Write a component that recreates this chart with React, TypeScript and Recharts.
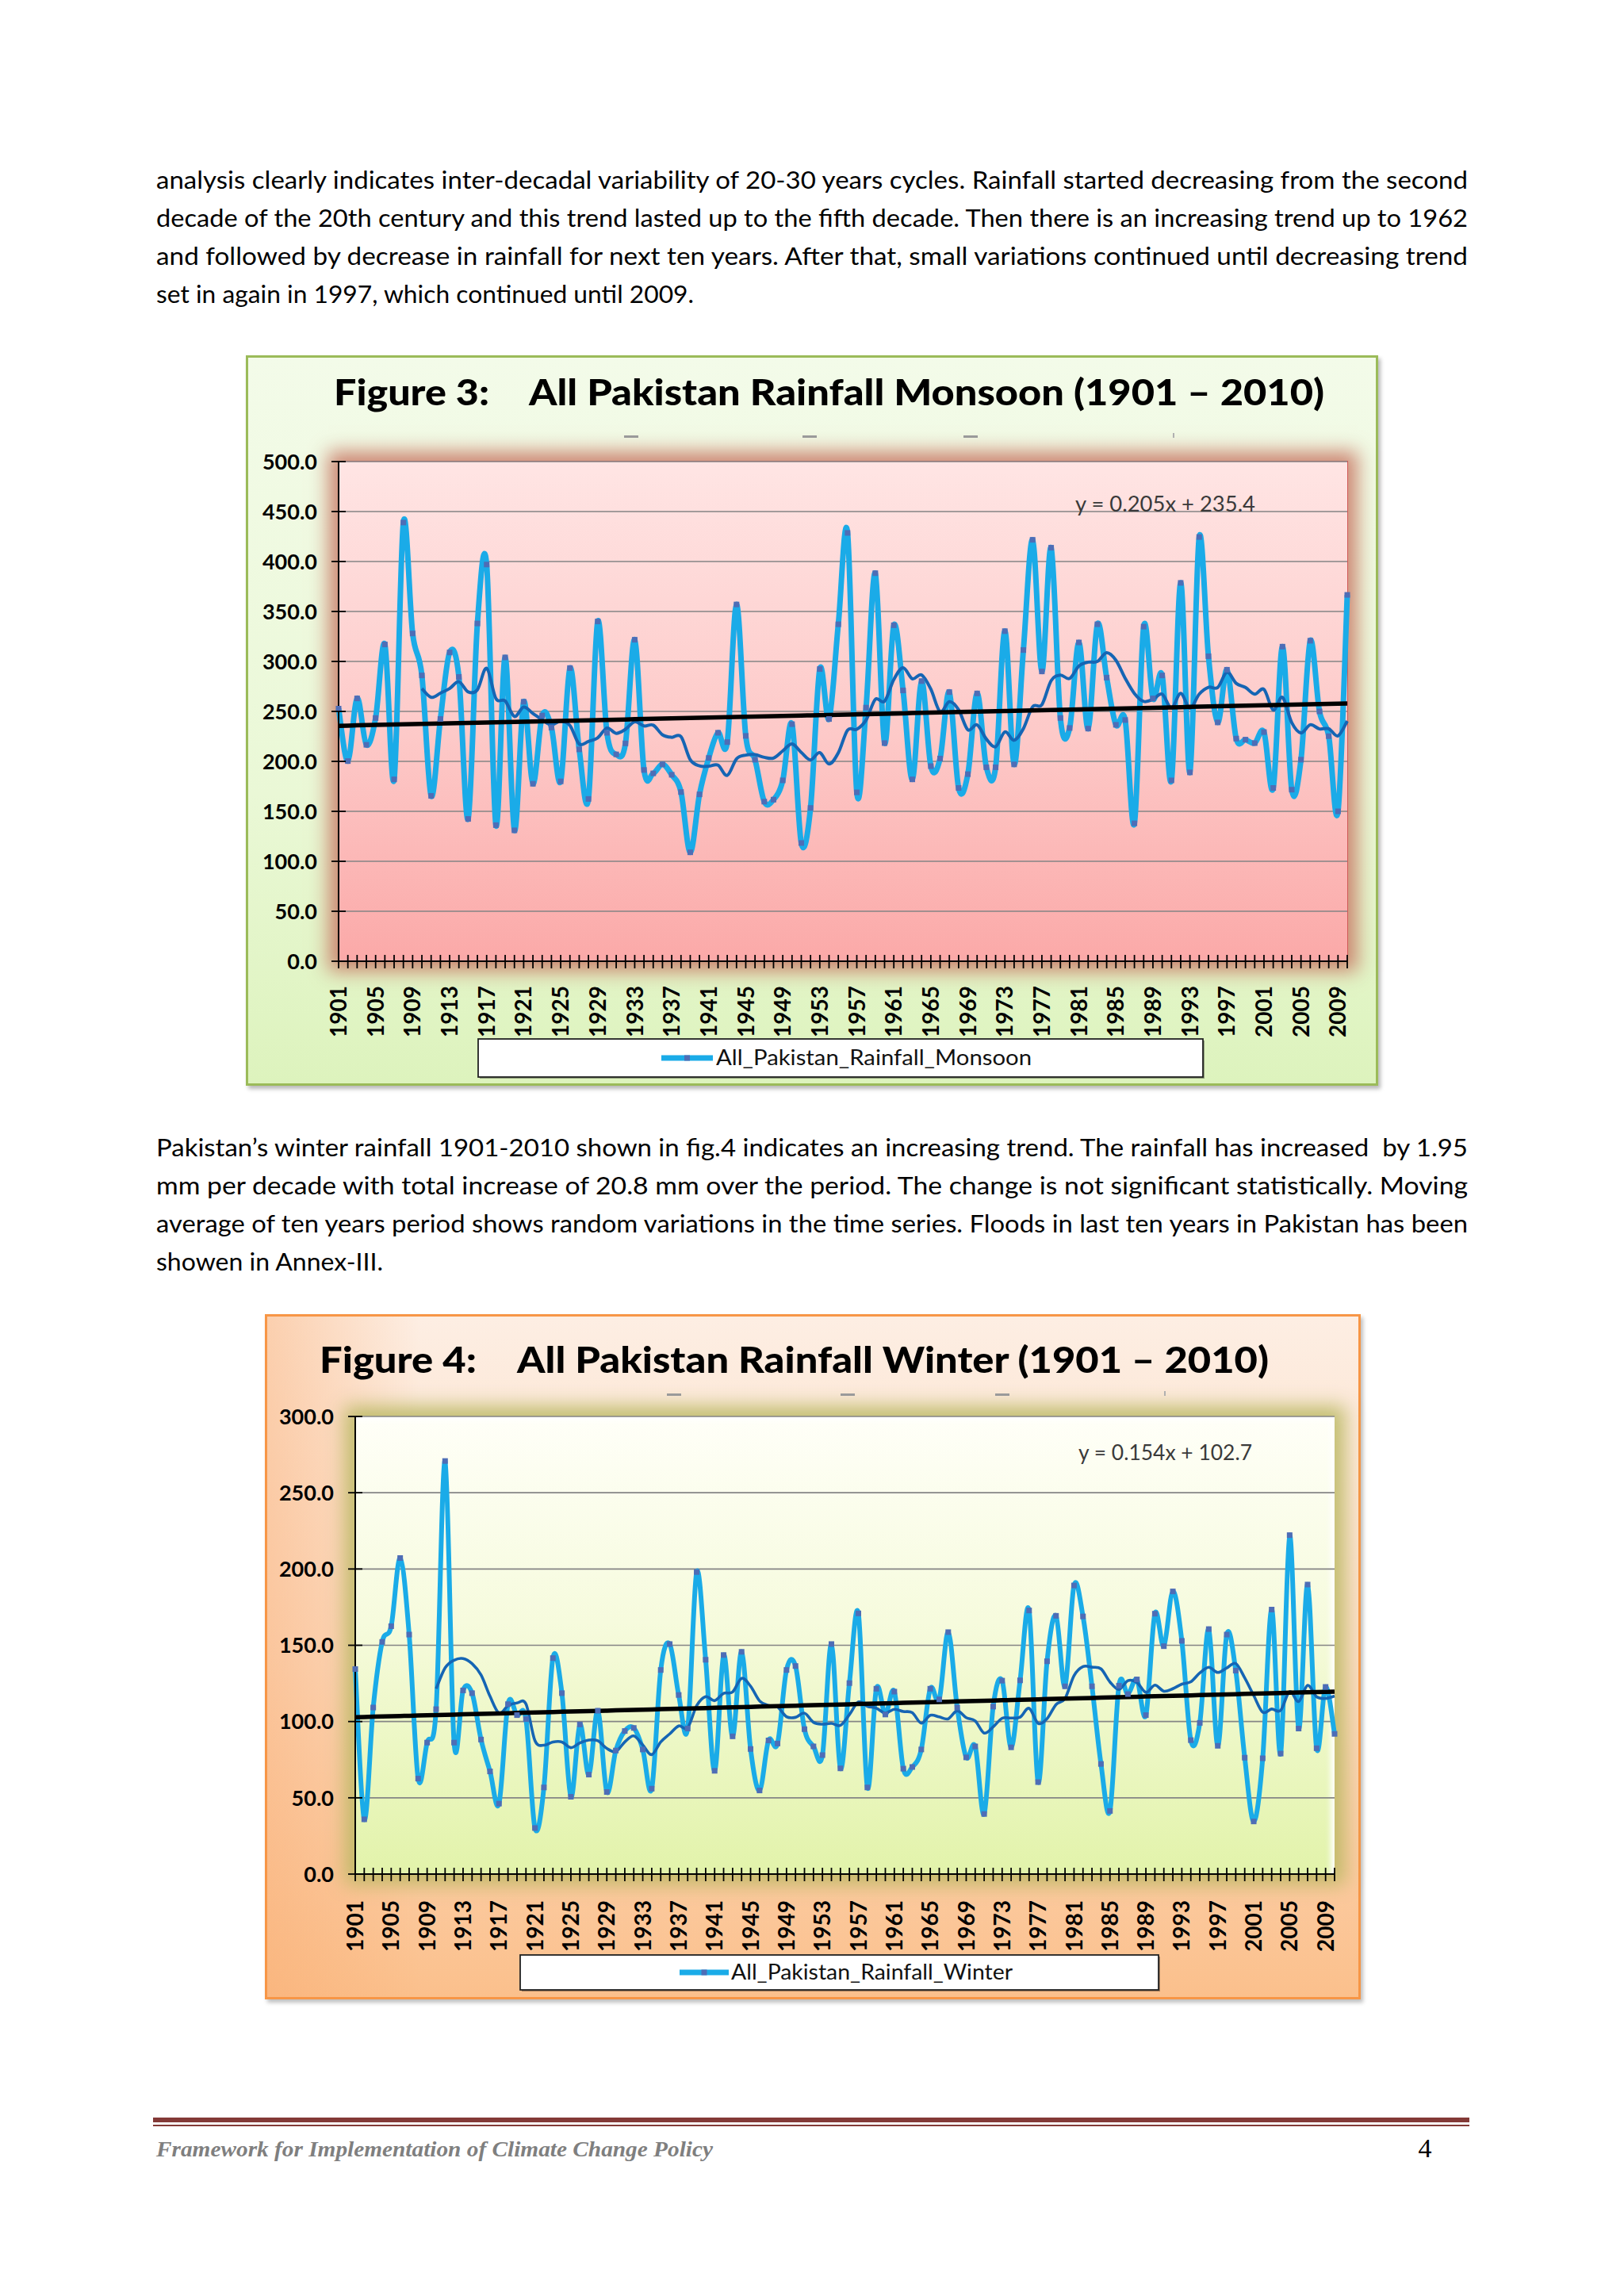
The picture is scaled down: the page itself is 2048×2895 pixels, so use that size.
import React from 'react';
import { LineChart, Line, XAxis, YAxis, CartesianGrid } from 'recharts';

// ---------------- DATA ----------------
const START_YEAR = 1901;
const YEARS: string[] = Array.from({ length: 110 }, (_, i) => String(START_YEAR + i));

const YEAR_TICK_LABELS = [
  '1901', '1905', '1909', '1913', '1917', '1921', '1925', '1929', '1933', '1937',
  '1941', '1945', '1949', '1953', '1957', '1961', '1965', '1969', '1973', '1977',
  '1981', '1985', '1989', '1993', '1997', '2001', '2005', '2009',
];

// All Pakistan Rainfall Monsoon (mm), 1901–2010
const MONSOON_VALUES = [
  252.8, 200.3, 263.0, 216.6, 243.4, 317.0, 182.0, 439.0, 328.0, 286.0, // 1901-1910
  165.5, 242.4, 309.0, 284.5, 142.4, 338.0, 397.0, 136.2, 304.0, 131.0, // 1911-1920
  259.6, 177.6, 245.9, 233.8, 180.0, 293.4, 212.0, 162.4, 340.0, 228.6, // 1921-1930
  207.0, 218.0, 321.7, 191.4, 188.0, 197.0, 186.6, 169.3, 109.0, 167.0, // 1931-1940
  203.4, 228.6, 219.3, 357.0, 225.5, 201.7, 159.7, 161.7, 181.0, 237.2, // 1941-1950
  118.3, 153.4, 292.4, 242.4, 337.2, 428.6, 169.0, 253.8, 388.3, 218.3, // 1951-1960
  336.2, 271.0, 182.0, 280.3, 195.2, 202.8, 269.3, 173.4, 187.2, 268.0, // 1961-1970
  194.1, 194.1, 330.3, 197.0, 311.4, 421.7, 290.0, 413.8, 243.4, 233.4, // 1971-1980
  319.0, 232.8, 337.2, 283.8, 236.6, 241.4, 138.0, 334.8, 263.0, 286.0, // 1981-1990
  181.0, 378.6, 189.0, 424.5, 305.2, 239.0, 291.7, 222.8, 221.7, 218.3, // 1991-2000
  229.3, 173.4, 314.8, 171.7, 201.7, 320.7, 250.0, 225.2, 150.0, 366.6, // 2001-2010
];

// All Pakistan Rainfall Winter (mm), 1901–2010
const WINTER_VALUES = [
  134.4, 35.9, 109.2, 152.2, 162.5, 207.2, 157.0, 62.6, 86.2, 108.1, // 1901-1910
  270.8, 86.2, 120.4, 118.6, 88.2, 67.3, 46.2, 111.4, 104.2, 101.6, // 1911-1920
  30.2, 56.8, 141.6, 118.6, 50.7, 98.1, 65.2, 107.1, 53.8, 81.0, // 1921-1930
  93.8, 95.8, 81.7, 56.0, 133.8, 150.8, 117.4, 95.4, 198.0, 140.5, // 1931-1940
  67.7, 143.6, 90.3, 145.7, 82.0, 54.8, 87.6, 85.6, 133.8, 136.4, // 1941-1950
  95.0, 83.7, 78.0, 150.8, 69.3, 125.2, 170.9, 56.8, 121.5, 104.6, // 1951-1960
  119.6, 69.1, 70.2, 81.7, 121.5, 114.5, 158.6, 109.2, 76.5, 83.7, // 1961-1970
  39.4, 109.8, 126.8, 83.1, 127.0, 172.8, 60.3, 139.5, 169.3, 123.1, // 1971-1980
  189.2, 168.9, 123.1, 72.2, 41.4, 123.5, 118.0, 127.6, 104.2, 170.7, // 1981-1990
  149.4, 185.3, 152.9, 87.8, 99.1, 160.6, 84.1, 157.0, 133.4, 76.3, // 1991-2000
  34.5, 75.9, 173.4, 79.0, 222.2, 95.4, 189.8, 82.5, 122.7, 91.9, // 2001-2010
];

const MONSOON_TICKS = [0, 50, 100, 150, 200, 250, 300, 350, 400, 450, 500];
const WINTER_TICKS = [0, 50, 100, 150, 200, 250, 300];

const MONSOON_TREND = { slope: 0.205, intercept: 235.4, label: 'y = 0.205x + 235.4' };
const WINTER_TREND = { slope: 0.154, intercept: 102.7, label: 'y = 0.154x + 102.7' };
const MA_PERIOD = 10;

const PARA1 = [
  'analysis clearly indicates inter-decadal variability of 20-30 years cycles. Rainfall started decreasing from the second',
  'decade of the 20th century and this trend lasted up to the fifth decade. Then there is an increasing trend up to 1962',
  'and followed by decrease in rainfall for next ten years. After that, small variations continued until decreasing trend',
  'set in again in 1997, which continued until 2009.',
];
const PARA2 = [
  'Pakistan\u2019s winter rainfall 1901-2010 shown in fig.4 indicates an increasing trend. The rainfall has increased  by 1.95',
  'mm per decade with total increase of 20.8 mm over the period. The change is not significant statistically. Moving',
  'average of ten years period shows random variations in the time series. Floods in last ten years in Pakistan has been',
  'showen in Annex-III.',
];

// ---------------- HELPERS ----------------
type Trend = { slope: number; intercept: number; label: string };

function buildRows(values: number[], trend: Trend) {
  return YEARS.map((year, i) => {
    let ma: number | null = null;
    if (i >= MA_PERIOD - 1) {
      const win = values.slice(i - MA_PERIOD + 1, i + 1);
      ma = win.reduce((a, b) => a + b, 0) / MA_PERIOD;
    }
    return { year, value: values[i], ma, trend: trend.slope * (i + 1) + trend.intercept };
  });
}

// Excel-like smoothed line (Catmull-Rom through points)
const excelSmooth: any = (context: any) => {
  let pts: number[][] = [];
  return {
    areaStart() {},
    areaEnd() {},
    lineStart() {
      pts = [];
    },
    lineEnd() {
      const n = pts.length;
      if (!n) return;
      context.moveTo(pts[0][0], pts[0][1]);
      if (n === 1) {
        context.lineTo(pts[0][0], pts[0][1]);
        return;
      }
      for (let i = 0; i < n - 1; i++) {
        const p0 = pts[Math.max(0, i - 1)];
        const p1 = pts[i];
        const p2 = pts[i + 1];
        const p3 = pts[Math.min(n - 1, i + 2)];
        context.bezierCurveTo(
          p1[0] + (p2[0] - p0[0]) / 6,
          p1[1] + (p2[1] - p0[1]) / 6,
          p2[0] - (p3[0] - p1[0]) / 6,
          p2[1] - (p3[1] - p1[1]) / 6,
          p2[0],
          p2[1]
        );
      }
    },
    point(x: number, y: number) {
      pts.push([x, y]);
    },
  };
};

const AXIS_FONT = 'Lato, "Open Sans", sans-serif';
const TEXT_FONT = 'Lato, "Open Sans", sans-serif';

const makeXTick = (offset: number) => (props: any) => {
  const { x, y, payload } = props;
  const ay = y - offset;
  const show = YEAR_TICK_LABELS.includes(String(payload.value));
  return (
    <g>
      <line x1={x} x2={x} y1={ay - 8} y2={ay + 9} stroke="#000" strokeWidth={1.8} />
      {show ? (
        <text
          x={x}
          y={y}
          dy="0.36em"
          transform={`rotate(-90 ${x} ${y})`}
          textAnchor="end"
          fontFamily={AXIS_FONT}
          fontWeight={700}
          fontSize={28}
          fill="#000"
        >
          {payload.value}
        </text>
      ) : null}
    </g>
  );
};

const makeYTick = (offset: number) => (props: any) => {
  const { x, y, payload } = props;
  const ax = x + offset;
  return (
    <g>
      <line x1={ax - 9} x2={ax + 9} y1={y} y2={y} stroke="#000" strokeWidth={1.8} />
      <text
        x={x}
        y={y}
        dy="0.36em"
        textAnchor="end"
        fontFamily={AXIS_FONT}
        fontWeight={700}
        fontSize={27}
        fill="#000"
      >
        {Number(payload.value).toFixed(1)}
      </text>
    </g>
  );
};

const squareDot = (props: any) => {
  const { cx, cy, index } = props;
  if (cx == null || cy == null) return <g key={`d${index}`} />;
  return <rect key={`d${index}`} x={cx - 3.5} y={cy - 3.5} width={7} height={7} fill="#4E6DB6" />;
};

const YAXIS_W = 110;
const XAXIS_H = 110;

type FigCfg = {
  box: { left: number; top: number; width: number; height: number };
  plot: { left: number; top: number; right: number; bottom: number };
  xOffset: number;
  yOffset: number;
};

function RainChart({ cfg, rows, ticks, max, lineW, maW, trendW }: { cfg: FigCfg; rows: any[]; ticks: number[]; max: number; lineW: number; maW: number; trendW: number }) {
  const { box, plot } = cfg;
  const margin = {
    top: plot.top - box.top,
    left: plot.left - box.left - YAXIS_W,
    right: box.left + box.width - plot.right,
    bottom: box.top + box.height - plot.bottom - XAXIS_H,
  };
  return (
    <div style={{ position: 'absolute', left: box.left, top: box.top, width: box.width, height: box.height }}>
      <LineChart width={box.width} height={box.height} data={rows} margin={margin}>
        <CartesianGrid horizontal vertical={false} stroke="#858585" strokeWidth={1.6} />
        <XAxis
          dataKey="year"
          height={XAXIS_H}
          interval={0}
          tickLine={false}
          tickSize={0}
          tickMargin={cfg.xOffset}
          tick={makeXTick(cfg.xOffset)}
          axisLine={{ stroke: '#000', strokeWidth: 2 }}
        />
        <YAxis
          width={YAXIS_W}
          domain={[0, max]}
          ticks={ticks}
          interval={0}
          tickLine={false}
          tickSize={0}
          tickMargin={cfg.yOffset}
          tick={makeYTick(cfg.yOffset)}
          axisLine={{ stroke: '#000', strokeWidth: 2 }}
          allowDataOverflow
        />
        <Line
          dataKey="value"
          type={excelSmooth}
          stroke="#1AABE8"
          strokeWidth={lineW}
          dot={squareDot}
          activeDot={false}
          isAnimationActive={false}
        />
        <Line
          dataKey="ma"
          type={excelSmooth}
          stroke="#1565B4"
          strokeWidth={maW}
          dot={false}
          activeDot={false}
          isAnimationActive={false}
        />
        <Line
          dataKey="trend"
          type="linear"
          stroke="#000"
          strokeWidth={trendW}
          dot={false}
          activeDot={false}
          isAnimationActive={false}
        />
      </LineChart>
    </div>
  );
}

const FIG3: FigCfg = {
  box: { left: 310, top: 448, width: 1428, height: 921 },
  plot: { left: 427, top: 582, right: 1699, bottom: 1212 },
  xOffset: 31,
  yOffset: 27,
};
const FIG4: FigCfg = {
  box: { left: 334, top: 1657, width: 1382, height: 864 },
  plot: { left: 448, top: 1786, right: 1683, bottom: 2363 },
  xOffset: 33,
  yOffset: 27,
};

function Legend({ x, y, w, h, lineX1, lineX2, textX, textLen, label }: any) {
  const cy = y + h / 2;
  return (
    <g>
      <rect x={x + 2} y={y + 2} width={w} height={h} fill="rgba(0,0,0,0.35)" />
      <rect x={x} y={y} width={w} height={h} fill="#fff" stroke="#222" strokeWidth={1.8} />
      <line x1={lineX1} x2={lineX2} y1={cy} y2={cy} stroke="#1AABE8" strokeWidth={7} />
      <rect x={(lineX1 + lineX2) / 2 - 3.5} y={cy - 3.5} width={7} height={7} fill="#4E6DB6" />
      <text x={textX} y={cy + 9} fontFamily={TEXT_FONT} fontSize={27} fill="#111" textLength={textLen} lengthAdjust="spacingAndGlyphs">
        {label}
      </text>
    </g>
  );
}

export default function App() {
  const monsoonRows = buildRows(MONSOON_VALUES, MONSOON_TREND);
  const winterRows = buildRows(WINTER_VALUES, WINTER_TREND);

  const p3 = FIG3.plot;
  const p4 = FIG4.plot;

  return (
    <div
      style={{
        position: 'absolute',
        left: 0,
        top: 0,
        width: 2048,
        height: 2895,
        background: '#ffffff',
        overflow: 'hidden',
      }}
    >
      {/* Figure 3 frame */}
      <div
        style={{
          position: 'absolute',
          left: FIG3.box.left,
          top: FIG3.box.top,
          width: FIG3.box.width,
          height: FIG3.box.height,
          boxSizing: 'border-box',
          border: '3px solid #9BBB59',
          background: 'linear-gradient(#F3FBE9 0%, #EAF8D6 60%, #DDF3BD 100%)',
          boxShadow: '3px 4px 5px rgba(0,0,0,0.28)',
        }}
      />
      <div
        style={{
          position: 'absolute',
          left: p3.left,
          top: p3.top,
          width: p3.right - p3.left,
          height: p3.bottom - p3.top,
          background: 'linear-gradient(#FFE5E4 0%, #FDC9C8 55%, #FBA9A8 100%)',
          boxShadow: '0 0 22px 13px rgba(200,122,102,0.88)',
          outline: '1px solid #D05A58',
        }}
      />
      <RainChart cfg={FIG3} rows={monsoonRows} ticks={MONSOON_TICKS} max={500} lineW={7} maW={4} trendW={5.5} />

      {/* Figure 4 frame */}
      <div
        style={{
          position: 'absolute',
          left: FIG4.box.left,
          top: FIG4.box.top,
          width: FIG4.box.width,
          height: FIG4.box.height,
          boxSizing: 'border-box',
          border: '3px solid #F79646',
          background:
            'linear-gradient(to right, rgba(249,170,110,0.45) 0%, rgba(249,170,110,0) 14%), linear-gradient(#FDEEE3 0%, #FCDCC2 50%, #FBC08C 100%)',
          boxShadow: '3px 4px 5px rgba(0,0,0,0.25)',
        }}
      />
      <div
        style={{
          position: 'absolute',
          left: p4.left,
          top: p4.top,
          width: p4.right - p4.left,
          height: p4.bottom - p4.top,
          background: 'linear-gradient(#FFFFF8 0%, #F6FBDD 45%, #E2F3AA 100%)',
          boxShadow: '0 0 22px 13px rgba(186,184,98,0.88), inset -5px 5px 7px rgba(255,255,255,0.95)',
        }}
      />
      <RainChart cfg={FIG4} rows={winterRows} ticks={WINTER_TICKS} max={300} lineW={6} maW={3.6} trendW={5.5} />

      {/* Text overlay */}
      <svg width={2048} height={2895} style={{ position: 'absolute', left: 0, top: 0, pointerEvents: 'none' }}>
        {PARA1.map((t, i) => (
          <text
            key={`p1-${i}`}
            x={197}
            y={238 + i * 48}
            fontFamily={TEXT_FONT}
            fontSize={31}
            fill="#000"
            textLength={i === 3 ? 678 : 1654}
            lengthAdjust="spacingAndGlyphs"
            style={{ whiteSpace: 'pre' }}
          >
            {t}
          </text>
        ))}
        {PARA2.map((t, i) => (
          <text
            key={`p2-${i}`}
            x={197}
            y={1458 + i * 48}
            fontFamily={TEXT_FONT}
            fontSize={31}
            fill="#000"
            textLength={i === 3 ? 286 : 1654}
            lengthAdjust="spacingAndGlyphs"
            style={{ whiteSpace: 'pre' }}
          >
            {t}
          </text>
        ))}

        {/* Figure titles */}
        <text x={421} y={511} fontFamily={TEXT_FONT} fontWeight={900} fontSize={46} fill="#000" textLength={196} lengthAdjust="spacingAndGlyphs">
          Figure 3:
        </text>
        <text x={667} y={511} fontFamily={TEXT_FONT} fontWeight={900} fontSize={46} fill="#000" textLength={1003} lengthAdjust="spacingAndGlyphs">
          All Pakistan Rainfall Monsoon (1901 – 2010)
        </text>
        <text x={403} y={1731} fontFamily={TEXT_FONT} fontWeight={900} fontSize={46} fill="#000" textLength={198} lengthAdjust="spacingAndGlyphs">
          Figure 4:
        </text>
        <text x={652} y={1731} fontFamily={TEXT_FONT} fontWeight={900} fontSize={46} fill="#000" textLength={948} lengthAdjust="spacingAndGlyphs">
          All Pakistan Rainfall Winter (1901 – 2010)
        </text>

        {/* small grey artefact dashes under titles */}
        {[796, 1021, 1224].map((x) => (
          <rect key={`a3-${x}`} x={x - 9} y={549} width={18} height={3} fill="#9A9A9A" />
        ))}
        <rect x={1479} y={546} width={2} height={6} fill="#B0B0B0" />
        {[850, 1069, 1264].map((x) => (
          <rect key={`a4-${x}`} x={x - 9} y={1757} width={18} height={3} fill="#9A9A9A" />
        ))}
        <rect x={1468} y={1754} width={2} height={6} fill="#B0B0B0" />

        {/* Trend equations */}
        <text x={1356} y={645} fontFamily={TEXT_FONT} fontSize={26} fill="#3A3A3A" textLength={227} lengthAdjust="spacingAndGlyphs">
          {MONSOON_TREND.label}
        </text>
        <text x={1360} y={1841} fontFamily={TEXT_FONT} fontSize={26} fill="#3A3A3A" textLength={219} lengthAdjust="spacingAndGlyphs">
          {WINTER_TREND.label}
        </text>

        {/* Legends */}
        <Legend x={603} y={1310} w={914} h={48} lineX1={834} lineX2={899} textX={903} textLen={398} label="All_Pakistan_Rainfall_Monsoon" />
        <Legend x={656} y={2465} w={805} h={44} lineX1={857} lineX2={919} textX={922} textLen={355} label="All_Pakistan_Rainfall_Winter" />

        {/* Footer */}
        <rect x={193} y={2670} width={1660} height={6} fill="#833A37" />
        <rect x={193} y={2679} width={1660} height={2} fill="#833A37" />
        <text
          x={197}
          y={2719}
          fontFamily='"Liberation Serif", "DejaVu Serif", serif'
          fontStyle="italic"
          fontWeight={700}
          fontSize={27}
          fill="#7F7F7F"
          textLength={702}
          lengthAdjust="spacingAndGlyphs"
        >
          Framework for Implementation of Climate Change Policy
        </text>
        <text x={1797} y={2720} fontFamily='"Liberation Serif", "DejaVu Serif", serif' fontSize={34} fill="#000" textAnchor="middle">
          4
        </text>
      </svg>
    </div>
  );
}
